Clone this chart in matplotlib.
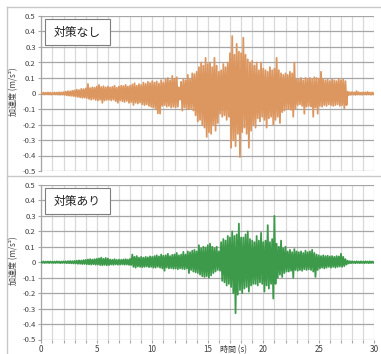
import numpy as np
import matplotlib
matplotlib.use("Agg")
import matplotlib.pyplot as plt
from matplotlib.lines import Line2D
from matplotlib.patches import Rectangle
import matplotlib.transforms as mtransforms

plt.rcParams['font.family'] = ['Noto Sans CJK JP', 'DejaVu Sans']

# sample step of the envelope lists (s); upper peak at t, lower peak at t + step/2
step = 0.2

# 対策なし : positive / negative peaks every 0.2 s (0 .. 30 s)
top_up = [0.005, 0.006, 0.005, 0.007, 0.006, 0.005, 0.007, 0.006, 0.008, 0.007, 0.009,
          0.012, 0.015, 0.014, 0.018, 0.02,
          0.025, 0.022, 0.03, 0.028, 0.033,
          0.061, 0.035, 0.04, 0.038, 0.045,
          0.055, 0.042, 0.047, 0.04, 0.045,
          0.04, 0.043, 0.05, 0.038, 0.045,
          0.05, 0.048, 0.055, 0.045, 0.05,
          0.058, 0.066, 0.05, 0.06, 0.055,
          0.07, 0.062, 0.075, 0.068, 0.08,
          0.07, 0.078, 0.065, 0.086, 0.07,
          0.09, 0.1, 0.085, 0.113, 0.095,
          0.105, 0.04, 0.075, 0.09, 0.085,
          0.12, 0.09, 0.13, 0.125, 0.14,
          0.17, 0.2, 0.18, 0.23, 0.19,
          0.2, 0.17, 0.23, 0.18, 0.14,
          0.15, 0.19, 0.17, 0.2, 0.26,
          0.37, 0.25, 0.32, 0.27, 0.26,
          0.36, 0.25, 0.22, 0.2, 0.21,
          0.18, 0.2, 0.15, 0.2, 0.16,
          0.15, 0.14, 0.17, 0.15, 0.16,
          0.23, 0.15, 0.13, 0.12, 0.13,
          0.12, 0.14, 0.13, 0.2, 0.09,
          0.09, 0.1, 0.085, 0.1, 0.095,
          0.1, 0.09, 0.105, 0.1, 0.095,
          0.14, 0.09, 0.085, 0.09, 0.08,
          0.09, 0.085, 0.08, 0.095, 0.085,
          0.09, 0.08,
          0.012, 0.008, 0.01, 0.007, 0.015, 0.008, 0.006, 0.008, 0.007, 0.01, 0.006, 0.007, 0.006]
top_lo = [-0.005, -0.006, -0.005, -0.006, -0.007, -0.005, -0.006, -0.007, -0.008, -0.007, -0.009,
          -0.012, -0.014, -0.015, -0.017, -0.02,
          -0.022, -0.025, -0.028, -0.027, -0.03,
          -0.035, -0.04, -0.035, -0.042, -0.045,
          -0.04, -0.06, -0.045, -0.042, -0.04,
          -0.045, -0.04, -0.05, -0.06, -0.045,
          -0.05, -0.055, -0.048, -0.06, -0.055,
          -0.074, -0.06, -0.065, -0.058, -0.07,
          -0.075, -0.07, -0.08, -0.085, -0.09,
          -0.1, -0.128, -0.13, -0.08, -0.075,
          -0.085, -0.08, -0.09, -0.085, -0.09,
          -0.085, -0.04, -0.11, -0.09, -0.1,
          -0.1, -0.095, -0.11, -0.14, -0.18,
          -0.17, -0.2, -0.22, -0.28, -0.25,
          -0.26, -0.2, -0.24, -0.19, -0.13,
          -0.15, -0.14, -0.17, -0.15, -0.35,
          -0.3, -0.34, -0.26, -0.41, -0.25,
          -0.22, -0.26, -0.35, -0.24, -0.2,
          -0.22, -0.16, -0.18, -0.15, -0.17,
          -0.22, -0.16, -0.15, -0.2, -0.17,
          -0.15, -0.19, -0.12, -0.11, -0.1,
          -0.1, -0.105, -0.15, -0.1, -0.075,
          -0.07, -0.08, -0.13, -0.085, -0.08,
          -0.085, -0.15, -0.09, -0.13, -0.08,
          -0.085, -0.075, -0.08, -0.07, -0.075,
          -0.08, -0.075, -0.07, -0.08, -0.075,
          -0.095, -0.075,
          -0.01, -0.008, -0.007, -0.009, -0.006, -0.007, -0.008, -0.006, -0.007, -0.006, -0.008, -0.006, -0.007]

# 対策あり
bot_up = [0.004, 0.005, 0.004, 0.005, 0.005, 0.004, 0.005, 0.006, 0.005, 0.005, 0.006,
          0.006, 0.007, 0.008, 0.007, 0.009,
          0.01, 0.012, 0.011, 0.014, 0.015,
          0.018, 0.02, 0.017, 0.02, 0.022,
          0.025, 0.03, 0.022, 0.028, 0.024,
          0.018, 0.016, 0.02, 0.015, 0.017,
          0.016, 0.018, 0.02, 0.017, 0.022,
          0.05, 0.035, 0.04, 0.03, 0.035,
          0.03, 0.035, 0.032, 0.038, 0.035,
          0.04, 0.045, 0.038, 0.05, 0.042,
          0.045, 0.055, 0.04, 0.048, 0.05,
          0.06, 0.045, 0.05, 0.067, 0.05,
          0.07, 0.065, 0.075, 0.08, 0.07,
          0.11, 0.09, 0.1, 0.095, 0.11,
          0.12, 0.1, 0.09, 0.1, 0.07,
          0.13, 0.15, 0.14, 0.17, 0.16,
          0.2, 0.17, 0.18, 0.25, 0.16,
          0.16, 0.18, 0.2, 0.15, 0.14,
          0.13, 0.17, 0.14, 0.19, 0.13,
          0.14, 0.24, 0.13, 0.15, 0.3,
          0.12, 0.1, 0.14, 0.09, 0.1,
          0.07, 0.08, 0.065, 0.085, 0.07,
          0.065, 0.07, 0.06, 0.075, 0.065,
          0.07, 0.08, 0.06, 0.05, 0.045,
          0.04, 0.045, 0.04, 0.042, 0.038,
          0.04, 0.035, 0.04, 0.038, 0.055,
          0.035, 0.02,
          0.01, 0.007, 0.006, 0.005, 0.006, 0.005, 0.006, 0.005, 0.006, 0.005, 0.006, 0.005, 0.005]
bot_lo = [-0.004, -0.005, -0.004, -0.005, -0.004, -0.005, -0.005, -0.004, -0.006, -0.005, -0.005,
          -0.006, -0.006, -0.007, -0.008, -0.008,
          -0.01, -0.01, -0.012, -0.011, -0.013,
          -0.014, -0.015, -0.013, -0.016, -0.015,
          -0.018, -0.02, -0.017, -0.02, -0.018,
          -0.015, -0.017, -0.014, -0.016, -0.015,
          -0.014, -0.016, -0.015, -0.017, -0.018,
          -0.03, -0.035, -0.028, -0.03, -0.032,
          -0.03, -0.028, -0.032, -0.03, -0.035,
          -0.035, -0.03, -0.035, -0.04, -0.055,
          -0.035, -0.04, -0.038, -0.042, -0.04,
          -0.045, -0.04, -0.042, -0.045, -0.04,
          -0.07, -0.05, -0.06, -0.065, -0.07,
          -0.08, -0.09, -0.095, -0.09, -0.1,
          -0.085, -0.07, -0.06, -0.05, -0.055,
          -0.12, -0.13, -0.15, -0.14, -0.16,
          -0.2, -0.33, -0.21, -0.18, -0.2,
          -0.17, -0.16, -0.19, -0.15, -0.14,
          -0.14, -0.15, -0.13, -0.14, -0.19,
          -0.15, -0.17, -0.14, -0.235, -0.14,
          -0.1, -0.08, -0.095, -0.07, -0.06,
          -0.06, -0.055, -0.1, -0.05, -0.055,
          -0.05, -0.055, -0.045, -0.05, -0.045,
          -0.05, -0.06, -0.095, -0.05, -0.04,
          -0.035, -0.04, -0.035, -0.03, -0.035,
          -0.03, -0.035, -0.03, -0.028, -0.03,
          -0.025, -0.015,
          -0.008, -0.006, -0.005, -0.006, -0.005, -0.006, -0.005, -0.006, -0.005, -0.006, -0.005, -0.005, -0.006]

panel_titles = ["対策なし", "対策あり"]
colors = ["#dc965f", "#3d9a4b"]
yticks = [0.5, 0.4, 0.3, 0.2, 0.1, 0, -0.1, -0.2, -0.3, -0.4, -0.5]
ytick_labels = ["0.5", "0.4", "0.3", "0.2", "0.1", "0", "-0.1", "-0.2", "-0.3", "-0.4", "-0.5"]
xticks = [0, 5, 10, 15, 20, 25, 30]
ylabel = "加速度 (m/s²)"
xlabel = "時間 (s)"

W, H = 381, 354
fig = plt.figure(figsize=(W / 100, H / 100), dpi=100)


def px_rect(x0, y0, x1, y1):
    # pixel box (top-left origin) -> figure fraction rect
    return [x0 / W, 1 - y1 / H, (x1 - x0) / W, (y1 - y0) / H]


def waveform(up, lo):
    n = len(up)
    t = np.empty(2 * n)
    y = np.empty(2 * n)
    t[0::2] = np.arange(n) * step
    t[1::2] = np.arange(n) * step + step / 2
    y[0::2] = up
    y[1::2] = lo
    return t, y


axes = [fig.add_axes(px_rect(41.3, 16, 374.3, 171)),
        fig.add_axes(px_rect(41.3, 185, 374.3, 339.5))]
series = [(top_up, top_lo), (bot_up, bot_lo)]

for i, ax in enumerate(axes):
    t, y = waveform(*series[i])
    ax.plot(t, y, color=colors[i], lw=1.3, zorder=3)
    ax.set_xlim(0, 30)
    ax.set_ylim(-0.5, 0.5)
    ax.set_yticks(yticks)
    ax.set_yticklabels(ytick_labels)
    ax.set_xticks(xticks)
    ax.set_xticks(np.arange(0, 31, 1), minor=True)
    ax.grid(True, axis='x', which='both', color='#d9d9d9', lw=0.9)
    ax.grid(True, axis='y', which='major', color='#a6a6a6', lw=0.9)
    for s in ax.spines.values():
        s.set_visible(False)
    ax.spines['left'].set_visible(True)
    ax.spines['left'].set_color('#a6a6a6')
    ax.spines['left'].set_linewidth(0.9)
    ax.tick_params(axis='y', length=2, width=0.8, color='#a6a6a6', labelsize=5.5,
                   labelcolor='#404040', pad=2)
    ax.tick_params(axis='x', which='both', length=2, width=0.8, color='#a6a6a6',
                   labelsize=5.8, labelcolor='#404040', pad=2)
    ax.set_axisbelow(True)
    if i == 0:
        ax.tick_params(axis='x', which='both', labelbottom=False, length=0)
    # title box
    ax.add_patch(Rectangle((0.011, 0.812), 0.195, 0.17, transform=ax.transAxes,
                           facecolor='white', edgecolor='#7f7f7f', lw=0.8, zorder=5))
    ax.text(0.109, 0.895, panel_titles[i], transform=ax.transAxes, ha='center',
            va='center', fontsize=8.5, color='#222222', zorder=6)
    fig.text(13.5 / W, 1 - (92 if i == 0 else 261) / H, ylabel, rotation=90,
             ha='center', va='center', fontsize=5.8, color='#404040')

# x label sits on the tick-label row
trans = mtransforms.blended_transform_factory(axes[1].transData, fig.transFigure)
axes[1].text(17.3, 1 - 350 / H, xlabel, transform=trans, ha='center', va='center',
             fontsize=5.8, color='#404040')

# chart frames
fc = '#c8c8c8'
fig.add_artist(Line2D([7 / W, 7 / W], [0, 1 - 7 / H], color=fc, lw=1.0))
fig.add_artist(Line2D([7 / W, 1], [1 - 7 / H, 1 - 7 / H], color=fc, lw=1.0))
fig.add_artist(Line2D([7 / W, 1], [1 - 176 / H, 1 - 176 / H], color=fc, lw=1.0))

fig.savefig("out.png", dpi=100)
